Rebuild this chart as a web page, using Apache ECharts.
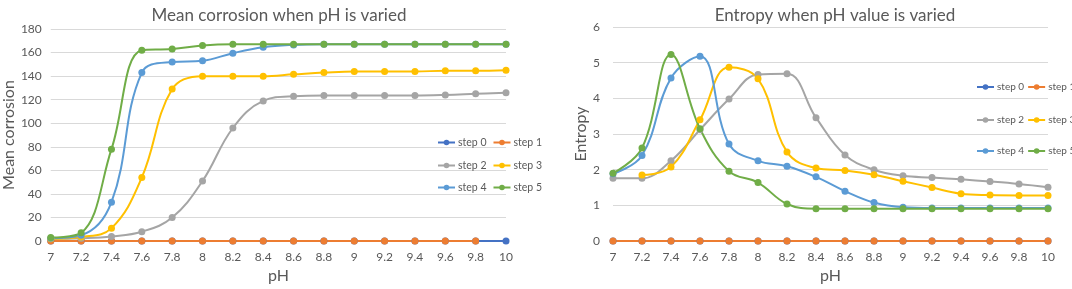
<!DOCTYPE html>
<html>
<head>
<meta charset="utf-8">
<script src="https://cdn.jsdelivr.net/npm/echarts@6/dist/echarts.min.js"></script>
<style>
  html, body { margin: 0; padding: 0; background: #fff; }
  #chart { width: 1072px; height: 289px; }
</style>
</head>
<body>
<div id="chart"></div>
<script>
var phLabels = ['7', '7.2', '7.4', '7.6', '7.8', '8', '8.2', '8.4', '8.6', '8.8', '9', '9.2', '9.4', '9.6', '9.8', '10'];
var stepNames = ['step 0', 'step 1', 'step 2', 'step 3', 'step 4', 'step 5'];
var stepColors = ['#4472C4', '#ED7D31', '#A5A5A5', '#FFC000', '#5B9BD5', '#70AD47'];

// mean corrosion per step
var corr0 = [0, 0, 0, 0, 0, 0, 0, 0, 0, 0, 0, 0, 0, 0, 0, 0];
var corr1 = [0, 0, 0, 0, 0, 0, 0, 0, 0, 0, 0, 0, 0, 0, 0, null];
var corr2 = [2, 2.5, 4, 8, 20, 51, 96, 119, 123, 123.5, 123.5, 123.5, 123.5, 124, 125, 126];
var corr3 = [2, 3.5, 11, 54, 129, 140, 140, 140, 141.5, 143, 144, 144, 144, 144.5, 144.5, 145];
var corr4 = [2.5, 5, 33, 143, 152, 153, 159.5, 164.5, 166.5, 167, 167, 167, 167, 167, 167, 167];
var corr5 = [3, 7, 78, 162, 163, 166, 167, 167, 167, 167, 167, 167, 167, 167, 167, 167];

// entropy per step
var ent0 = [0, 0, 0, 0, 0, 0, 0, 0, 0, 0, 0, 0, 0, 0, 0, 0];
var ent1 = [0, 0, 0, 0, 0, 0, 0, 0, 0, 0, 0, 0, 0, 0, 0, 0];
var ent2 = [1.76, 1.76, 2.25, 3.12, 3.98, 4.67, 4.69, 3.46, 2.41, 2.0, 1.83, 1.78, 1.73, 1.67, 1.6, 1.51];
var ent3 = [null, 1.85, 2.08, 3.4, 4.87, 4.55, 2.5, 2.05, 1.98, 1.86, 1.68, 1.5, 1.33, 1.29, 1.28, 1.28];
var ent4 = [1.89, 2.4, 4.57, 5.18, 2.72, 2.25, 2.1, 1.8, 1.4, 1.08, 0.95, 0.93, 0.93, 0.93, 0.93, 0.93];
var ent5 = [1.9, 2.61, 5.23, 3.15, 1.96, 1.64, 1.04, 0.91, 0.91, 0.91, 0.91, 0.91, 0.91, 0.91, 0.91, 0.91];

var corrData = [corr0, corr1, corr2, corr3, corr4, corr5];
var entData = [ent0, ent1, ent2, ent3, ent4, ent5];

var txt = '#595959';
var font = 'Lato';

function makeSeries(list, idx) {
    return list.map(function (d, i) {
        return {
            name: stepNames[i],
            type: 'line',
            xAxisIndex: idx,
            yAxisIndex: idx,
            data: d,
            smooth: 0.4,
            symbol: 'circle',
            symbolSize: 7,
            lineStyle: { width: 2, color: stepColors[i] },
            itemStyle: { color: stepColors[i] },
            animation: false
        };
    });
}

// one legend per row, two entries each
function makeLegends(x, ys, gap, fs) {
    var out = [];
    for (var r = 0; r < 3; r++) {
        out.push({
            left: x,
            top: ys[r] - 7,
            width: 150,
            padding: 0,
            itemWidth: 17,
            itemHeight: 7,
            itemGap: gap,
            textStyle: { color: txt, fontSize: fs, fontFamily: font, padding: [0, 0, 0, -2] },
            data: [stepNames[r * 2], stepNames[r * 2 + 1]]
        });
    }
    return out;
}

var myChart = echarts.init(document.getElementById('chart'));
var option = {
    backgroundColor: '#fff',
    animation: false,
    title: [
        { text: 'Mean corrosion when pH is varied', left: 274, top: 2, textAlign: 'center',
          textStyle: { color: txt, fontSize: 17, fontWeight: 'normal', fontFamily: font } },
        { text: 'Entropy when pH value is varied', left: 830, top: 2, textAlign: 'center',
          textStyle: { color: txt, fontSize: 17, fontWeight: 'normal', fontFamily: font } }
    ],
    legend: makeLegends(437, [144, 167, 189], 6, 10.5).concat(makeLegends(976, [89, 122, 153], 3, 10)),
    grid: [
        { left: 42, right: 566, top: 29, bottom: 38 },
        { left: 613, right: 24, top: 27, bottom: 38 }
    ],
    xAxis: [0, 1].map(function (i) {
        return {
            type: 'category',
            gridIndex: i,
            data: phLabels,
            boundaryGap: false,
            name: 'pH',
            nameLocation: 'middle',
            nameGap: 24,
            nameTextStyle: { color: txt, fontSize: 16, fontFamily: font },
            axisLine: { show: false },
            axisTick: { show: false },
            axisLabel: { color: txt, fontSize: 12, fontFamily: font, margin: 10 }
        };
    }),
    yAxis: [
        {
            type: 'value', gridIndex: 0, min: 0, max: 180, interval: 20,
            name: 'Mean corrosion', nameLocation: 'middle', nameGap: 32,
            nameTextStyle: { color: txt, fontSize: 16, fontFamily: font },
            axisLabel: { color: txt, fontSize: 12, fontFamily: font, margin: 9 },
            splitLine: { lineStyle: { color: '#D9D9D9' } }
        },
        {
            type: 'value', gridIndex: 1, min: 0, max: 6, interval: 1,
            name: 'Entropy', nameLocation: 'middle', nameGap: 22,
            nameTextStyle: { color: txt, fontSize: 16, fontFamily: font },
            axisLabel: { color: txt, fontSize: 12, fontFamily: font, margin: 13 },
            splitLine: { lineStyle: { color: '#D9D9D9' } }
        }
    ],
    series: makeSeries(corrData, 0).concat(makeSeries(entData, 1))
};
myChart.setOption(option);
</script>
</body>
</html>
